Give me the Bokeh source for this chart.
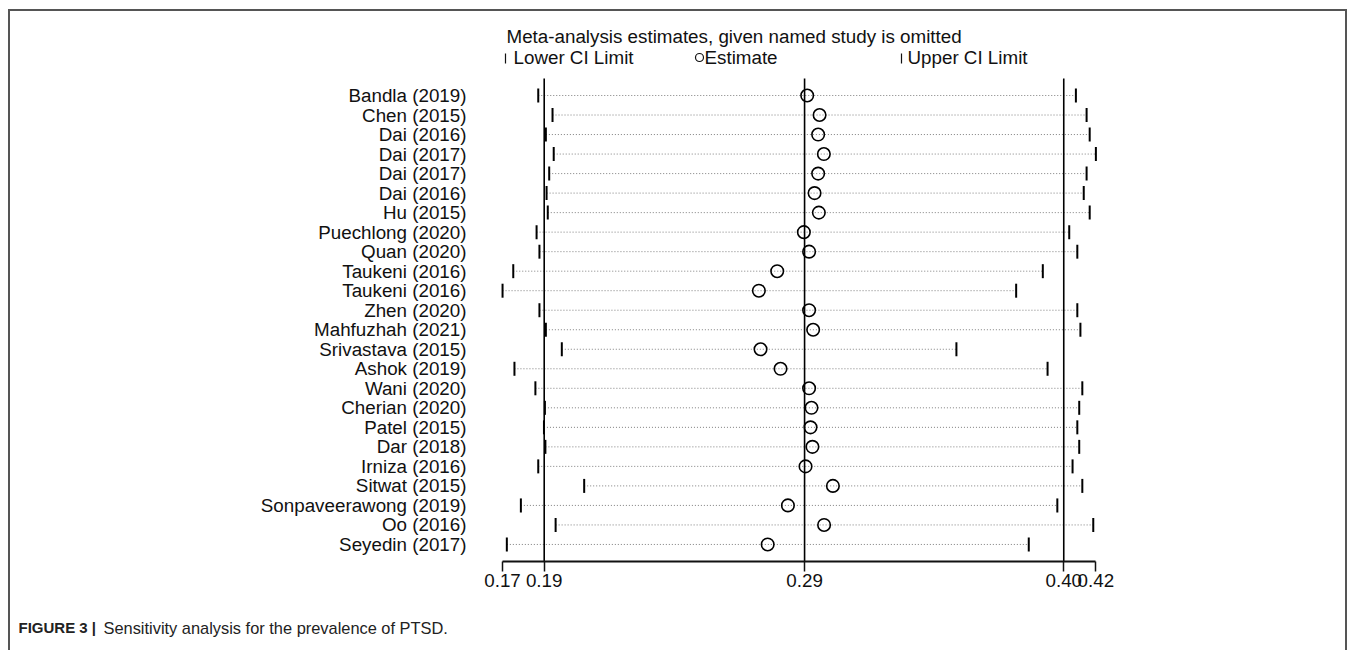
import numpy as np
from bokeh.plotting import figure
from bokeh.layouts import column
from bokeh.models import Range1d, FixedTicker, InlineStyleSheet, CustomJSTickFormatter
from bokeh.core.properties import value
from bokeh.embed import file_html
from bokeh.resources import INLINE

# ---------------- data ----------------
studies = ["Bandla (2019)", "Chen (2015)", "Dai (2016)", "Dai (2017)", "Dai (2017)",
           "Dai (2016)", "Hu (2015)", "Puechlong (2020)", "Quan (2020)", "Taukeni (2016)",
           "Taukeni (2016)", "Zhen (2020)", "Mahfuzhah (2021)", "Srivastava (2015)",
           "Ashok (2019)", "Wani (2020)", "Cherian (2020)", "Patel (2015)", "Dar (2018)",
           "Irniza (2016)", "Sitwat (2015)", "Sonpaveerawong (2019)", "Oo (2016)",
           "Seyedin (2017)"]
lower = [0.1830, 0.1890, 0.1862, 0.1895, 0.1876, 0.1865, 0.1870, 0.1823, 0.1835, 0.1725,
         0.1680, 0.1835, 0.1862, 0.1929, 0.1730, 0.1818, 0.1858, 0.1854, 0.1860, 0.1830,
         0.2023, 0.1757, 0.1903, 0.1698]
estimate = [0.2960, 0.3012, 0.3006, 0.3030, 0.3006, 0.2991, 0.3009, 0.2946, 0.2968, 0.2834,
            0.2757, 0.2968, 0.2985, 0.2764, 0.2848, 0.2968, 0.2978, 0.2974, 0.2982, 0.2953,
            0.3068, 0.2879, 0.3031, 0.2794]
upper = [0.4089, 0.4134, 0.4147, 0.4173, 0.4134, 0.4122, 0.4147, 0.4061, 0.4095, 0.3950,
         0.3838, 0.4095, 0.4108, 0.3587, 0.3970, 0.4116, 0.4103, 0.4095, 0.4103, 0.4075,
         0.4116, 0.4011, 0.4162, 0.3891]
pooled_lower = 0.1855
pooled_estimate = 0.2949
pooled_upper = 0.4038
tick_labels = ["0.17", "0.19", "0.29", "0.40", "0.42"]

title_text = "Meta-analysis estimates, given named study is omitted"
legend_texts = ["Lower CI Limit", "Estimate", "Upper CI Limit"]
caption_bold = "FIGURE 3 |"
caption_text = "Sensitivity analysis for the prevalence of PTSD."

# ---------------- layout ----------------
W = 1352
H1 = 601            # main figure height
H2 = 49             # caption strip height
FRAME_BOTTOM = 561  # page y of the x-axis line
PX_PER_UNIT = 2380.0
ANCHOR_X = 543.7    # page x of pooled lower limit
ROW0_Y, ROW_STEP = 95.0, 19.52
FONT = "Liberation Sans"
FS = "18.8px"

def xv(page_x):
    return pooled_lower + (page_x - ANCHOR_X) / PX_PER_UNIT

def yv(page_y):
    return 1 + (page_y - ROW0_Y) / ROW_STEP

rows = list(range(1, len(studies) + 1))
tick_values = [min(lower), pooled_lower, pooled_estimate, pooled_upper, max(upper)]

p = figure(width=W, height=H1, output_backend="svg", toolbar_location=None,
           x_range=Range1d(xv(0), xv(W)), y_range=Range1d(yv(FRAME_BOTTOM), yv(0)),
           min_border_left=0, min_border_right=0, min_border_top=0,
           min_border_bottom=H1 - FRAME_BOTTOM)
p.outline_line_color = None
p.grid.visible = False
p.yaxis.visible = False
p.background_fill_color = "white"
p.border_fill_color = "white"

# dotted guide lines per study
p.segment(x0=lower, y0=rows, x1=upper, y1=rows, line_color="#7f7f7f",
          line_dash="1 2", line_width=1)

# reference lines for pooled estimate and CI
refs = [pooled_lower, pooled_estimate, pooled_upper]
p.segment(x0=refs, y0=[yv(78)] * 3, x1=refs, y1=[yv(FRAME_BOTTOM)] * 3,
          line_color="black", line_width=1.6)

# CI limit ticks
p.scatter(x=lower, y=rows, marker="dash", angle=np.pi / 2, size=14,
          line_color="black", line_width=2)
p.scatter(x=upper, y=rows, marker="dash", angle=np.pi / 2, size=14,
          line_color="black", line_width=2)
# estimates
p.scatter(x=estimate, y=rows, marker="circle", size=12.5, fill_color=None,
          line_color="black", line_width=1.6)

# study labels
p.text(x=[xv(466)] * len(studies), y=rows, text=studies, text_align="right",
       text_baseline="middle", text_font=value(FONT), text_font_size=FS,
       text_color="#111111")

# header title
p.text(x=[xv(506)], y=[yv(36)], text=[title_text], text_align="left",
       text_baseline="middle", text_font=value(FONT), text_font_size=FS,
       text_color="#111111")

# legend
ly = yv(57)
p.scatter(x=[xv(505), xv(901)], y=[ly + 0.05, ly + 0.05], marker="dash", angle=np.pi / 2,
          size=10, line_color="#111111", line_width=1.2)
p.scatter(x=[xv(699)], y=[ly], marker="circle", size=8, fill_color=None,
          line_color="#111111", line_width=1.2)
p.text(x=[xv(513), xv(704), xv(907)], y=[ly] * 3, text=legend_texts, text_align="left",
       text_baseline="middle", text_font=value(FONT), text_font_size=FS,
       text_color="#111111")

# x axis
ax = p.xaxis[0]
ax.ticker = FixedTicker(ticks=tick_values)
ax.formatter = CustomJSTickFormatter(args=dict(labels=tick_labels),
                                     code="return labels[index];")
ax.bounds = (tick_values[0], tick_values[-1])
ax.axis_line_width = 1.8
ax.axis_line_color = "#111111"
ax.major_tick_line_color = "#111111"
ax.major_tick_line_width = 1.5
ax.major_tick_in = 0
ax.major_tick_out = 10
ax.minor_tick_line_color = None
ax.major_label_standoff = 2
ax.major_label_text_font = FONT
ax.major_label_text_font_size = FS
ax.major_label_text_color = "#111111"

# ---------------- caption strip ----------------
c = figure(width=W, height=H2, output_backend="svg", toolbar_location=None,
           x_range=Range1d(0, W), y_range=Range1d(H2, 0),
           min_border=0)
c.outline_line_color = None
c.grid.visible = False
c.axis.visible = False
c.background_fill_color = "white"
c.border_fill_color = "white"
cap_y = 627 - H1
c.text(x=[18], y=[cap_y], text=[caption_bold], text_font=value(FONT),
       text_font_size="15px", text_font_style="bold", text_baseline="middle",
       text_color="#222222")
c.text(x=[103], y=[cap_y], text=[caption_text], text_font=value(FONT),
       text_font_size="16.4px", text_baseline="middle", text_color="#222222")

border_css = InlineStyleSheet(css="""
:host { position: relative; }
:host::after { content: ''; position: absolute; left: 8px; top: 9px; right: 5px; bottom: 0px;
  border-left: 2px solid #555; border-top: 2px solid #555; border-right: 2px solid #555;
  box-sizing: border-box; pointer-events: none; z-index: 10; }
""")

layout = column(p, c, spacing=0)
layout.stylesheets = [border_css]

open("out.html", "w").write(file_html(layout, INLINE))
